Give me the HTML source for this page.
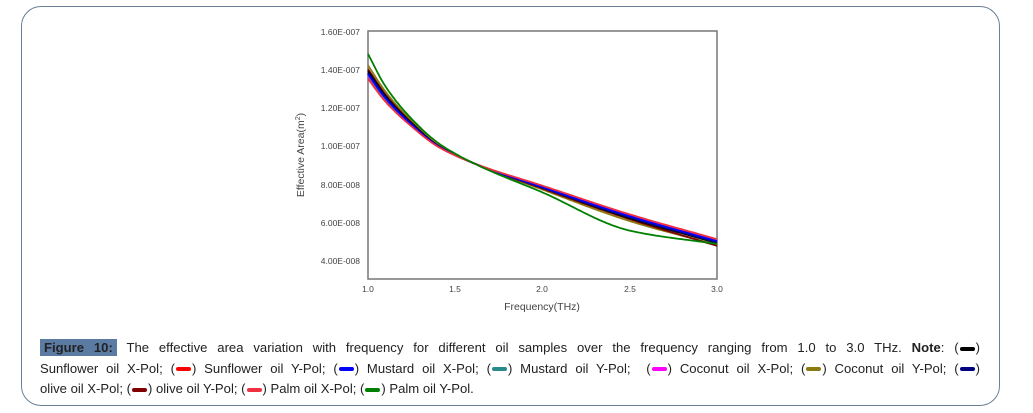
<!DOCTYPE html>
<html><head><meta charset="utf-8"><style>
body{margin:0;width:1033px;height:413px;background:#fff;position:relative;overflow:hidden;font-family:"Liberation Sans",sans-serif}
.frame{position:absolute;left:21px;top:6px;width:977px;height:398px;border:1.5px solid #6b7f99;border-radius:20px}
.cap{position:absolute;left:40px;top:338px;width:940px;font-size:13.1px;line-height:20.5px;color:#222}
.cap div{text-align:justify;text-align-last:justify;white-space:nowrap}
.cap div.l{text-align-last:left}
.fig{background:#5b7ba3;font-weight:bold;padding:1px 4px;color:#222}
.sw{display:inline-block;width:15px;height:4px;border-radius:2px;vertical-align:middle;margin:0 1px}
svg{position:absolute;left:0;top:0}
</style></head><body>
<div class="frame"></div>
<svg width="1033" height="413" font-family="Liberation Sans, sans-serif">
<rect x="368" y="31" width="349" height="248" fill="none" stroke="#777" stroke-width="1.5"/>
<g font-size="8.5" fill="#444" text-anchor="end">
<text x="360" y="35">1.60E-007</text><text x="360" y="73">1.40E-007</text><text x="360" y="111">1.20E-007</text>
<text x="360" y="149">1.00E-007</text><text x="360" y="188">8.00E-008</text><text x="360" y="226">6.00E-008</text><text x="360" y="264">4.00E-008</text>
</g>
<g font-size="8.5" fill="#444" text-anchor="middle">
<text x="368" y="292">1.0</text><text x="455" y="292">1.5</text><text x="542" y="292">2.0</text><text x="630" y="292">2.5</text><text x="717" y="292">3.0</text>
</g>
<text x="542" y="310" font-size="10.5" fill="#444" text-anchor="middle">Frequency(THz)</text>
<text transform="translate(304,155) rotate(-90)" font-size="10.5" fill="#444" text-anchor="middle">Effective Area(m<tspan font-size="7" dy="-4">2</tspan><tspan dy="4">)</tspan></text>
<g id="c" fill="none" stroke-width="1.8"></g>
</svg>
<div class="cap">
<div><span class="fig">Figure 10:</span> The effective area variation with frequency for different oil samples over the frequency ranging from 1.0 to 3.0 THz. <b>Note</b>: (<span class="sw" style="background:#000"></span>)</div>
<div>Sunflower oil X-Pol; (<span class="sw" style="background:#f00"></span>) Sunflower oil Y-Pol; (<span class="sw" style="background:#00f"></span>) Mustard oil X-Pol; (<span class="sw" style="background:#2a8a8a"></span>) Mustard oil Y-Pol; &nbsp;(<span class="sw" style="background:#f0f"></span>) Coconut oil X-Pol; (<span class="sw" style="background:#8a7a10"></span>) Coconut oil Y-Pol; (<span class="sw" style="background:#000080"></span>)</div>
<div class="l">olive oil X-Pol; (<span class="sw" style="background:#800000"></span>) olive oil Y-Pol; (<span class="sw" style="background:#f03040"></span>) Palm oil X-Pol; (<span class="sw" style="background:#008000"></span>) Palm oil Y-Pol.</div>
</div>
<script>
var F=[1,1.1,1.25,1.4,1.6,2,2.5,3];
var R=[13.5,12.3,11.0,9.95,9.1];
var S=[
["#f0f",[13.6,7.85,6.35,5.0]],
["#8a7a10",[14.2,7.7,6.05,4.8]],
["#800000",[14.0,7.75,6.15,4.75]],
["#000",[13.9,7.8,6.2,4.9]],
["#2a8a8a",[13.7,7.8,6.25,4.95]],
["#000080",[13.8,7.8,6.25,4.95]],
["#00f",[13.75,7.82,6.3,5.0]],
["#f03040",[13.5,7.9,6.4,5.1]]];
function X(f){return 368+(f-1)*174.5}function Y(v){return 31+(16-v)*19.1}
function pchip(x,y){var n=x.length,h=[],d=[],m=[];
for(var i=0;i<n-1;i++){h[i]=x[i+1]-x[i];d[i]=(y[i+1]-y[i])/h[i];}
m[0]=d[0];m[n-1]=d[n-2];
for(i=1;i<n-1;i++){if(d[i-1]*d[i]<=0)m[i]=0;else{var w1=2*h[i]+h[i-1],w2=h[i]+2*h[i-1];m[i]=(w1+w2)/(w1/d[i-1]+w2/d[i]);}}
return function(t){var k=0;while(k<n-2&&t>x[k+1])k++;var s=(t-x[k])/h[k],s2=s*s,s3=s2*s;
return (2*s3-3*s2+1)*y[k]+(s3-2*s2+s)*h[k]*m[k]+(-2*s3+3*s2)*y[k+1]+(s3-s2)*h[k]*m[k+1];};}
var series=S.map(function(s){var v=s[1],o=v[0]-13.5;
return [s[0],[v[0],R[1]+o*0.75,R[2]+o*0.4,R[3]+o*0.12,9.1,v[1],v[2],v[3]]];});
series.push(["#008000",[14.8,13.1,11.4,10.15,9.1,7.55,5.55,4.85]]);
var h='';
series.forEach(function(s){var fn=pchip(F,s[1]);var d='';
for(var f=1;f<=3.0001;f+=0.01){d+=(d?' L':'M')+X(f).toFixed(1)+','+Y(fn(Math.min(f,3))).toFixed(1);}
h+='<path stroke="'+s[0]+'" d="'+d+'"/>';});
document.getElementById('c').innerHTML=h;
</script>
</body></html>
